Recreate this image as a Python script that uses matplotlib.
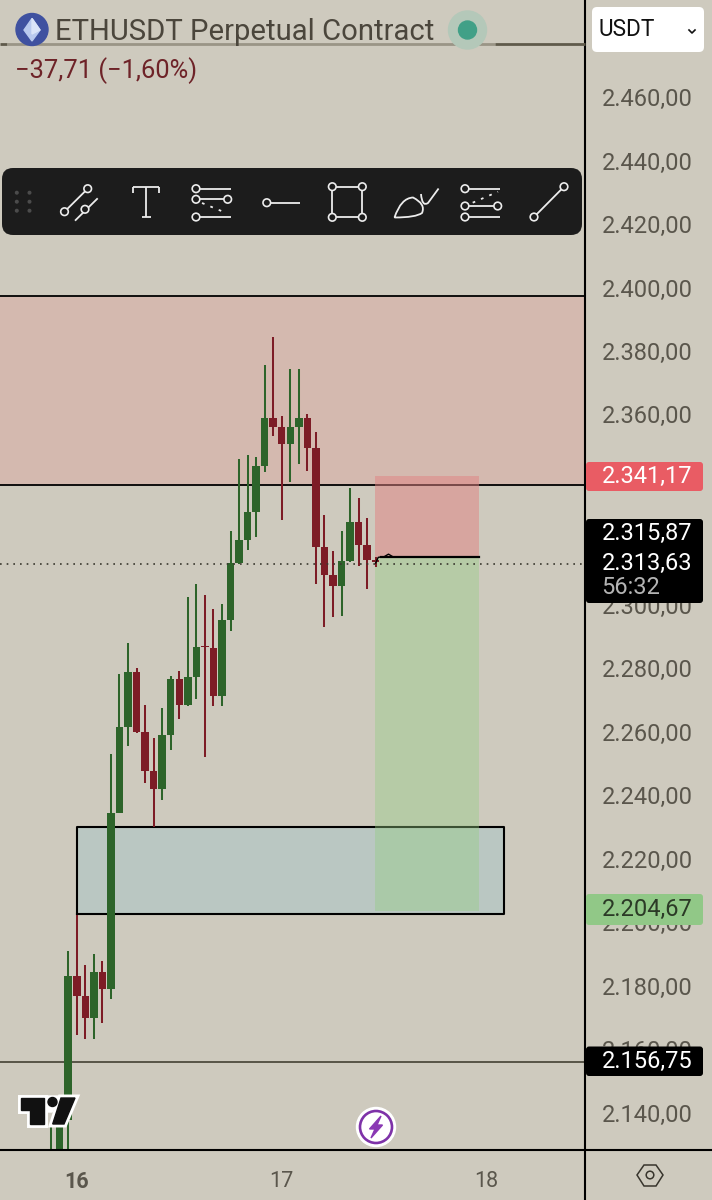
import matplotlib
matplotlib.use("Agg")
import matplotlib.pyplot as plt
import matplotlib.patheffects as pe
from matplotlib.patches import Circle, FancyBboxPatch, Polygon, PathPatch
from matplotlib.path import Path

plt.rcParams['font.family'] = ['Roboto', 'DejaVu Sans']

# ---- data (hourly candles, index 0 = first fully read candle) ----
candle_index = list(range(-1, 38))
opens = [2120.4, 2123.6, 2137.8, 2183.2, 2176.9, 2169.8, 2184.3, 2178.9, 2234.6, 2261.6,
         2279.0, 2260.1, 2247.7, 2241.9, 2259.0, 2276.7, 2268.4, 2277.2, 2287.0, 2286.3,
         2271.4, 2295.3, 2313.1, 2320.4, 2329.4, 2343.8, 2358.9, 2356.0, 2350.6, 2356.0,
         2358.9, 2349.4, 2318.3, 2309.5, 2305.9, 2313.7, 2326.2, 2318.9, 2314.2]
highs = [2136.2, 2138.4, 2191.1, 2202.3, 2186.6, 2190.0, 2187.7, 2253.0, 2278.1, 2287.9,
         2280.0, 2268.4, 2258.0, 2267.4, 2277.5, 2279.3, 2302.4, 2306.6, 2303.0, 2298.6,
         2300.2, 2323.4, 2345.9, 2347.3, 2346.5, 2375.7, 2384.3, 2359.5, 2374.2, 2374.2,
         2360.1, 2354.4, 2328.2, 2317.1, 2323.2, 2336.7, 2333.8, 2327.5, 2315.2]
lows = [2118.6, 2122.0, 2123.6, 2164.5, 2163.4, 2163.2, 2168.2, 2175.9, 2234.4, 2255.6,
        2259.8, 2244.0, 2230.1, 2238.6, 2254.2, 2264.0, 2268.3, 2270.4, 2252.0, 2268.2,
        2268.2, 2291.9, 2312.9, 2317.2, 2321.4, 2342.0, 2353.3, 2326.7, 2338.7, 2344.5,
        2342.3, 2306.6, 2293.1, 2296.1, 2296.6, 2313.5, 2312.4, 2305.1, 2312.0]
closes = [2126.7, 2137.8, 2183.2, 2176.9, 2169.8, 2184.3, 2178.9, 2234.6, 2261.6, 2279.0,
          2260.1, 2247.7, 2241.9, 2259.0, 2276.8, 2268.4, 2277.2, 2286.8, 2286.7, 2271.4,
          2295.3, 2313.1, 2320.4, 2329.4, 2343.8, 2358.9, 2356.0, 2350.6, 2356.0, 2358.9,
          2349.4, 2318.3, 2309.5, 2305.9, 2313.7, 2326.2, 2318.9, 2314.2, 2313.6]

price_ticks = [2460, 2440, 2420, 2400, 2380, 2360, 2340, 2320, 2300, 2280, 2260, 2240,
               2220, 2200, 2180, 2160, 2140]
day_ticks = [2, 26, 50]
day_labels = ['16', '17', '18']

supply_zone = (2337.8, 2397.3)
support_level = 2156.1
last_price_line = 2313.0
demand_box = (2, 52, 2202.6, 2230.1)
position_x = (36.9, 49.1)
position_prices = (2340.6, 2315.2, 2203.5)

tick_text = '2.{},00'
label_stop = '2.341,17'
label_entry = '2.315,87'
label_last = '2.313,63'
label_timer = '56:32'
label_target = '2.204,67'
label_support = '2.156,75'

BG = '#cecabe'
GREEN = '#2d642a'
RED = '#7d1c26'
INK = '#5a564c'

fig = plt.figure(figsize=(7.12, 12), dpi=100, facecolor=BG)
W, H = 712, 1200
ax = fig.add_axes([0, (H - 1150) / H, 585 / W, 1150 / H], facecolor=BG)

# scales: one candle = 8.54 px, 20 price units = 63.5 px
ax.set_xlim((0 - 59.7) / 8.54, (585 - 59.7) / 8.54)
ax.set_ylim(2490.555 - 0.315 * 1150, 2490.555)
for s in ax.spines.values():
    s.set_visible(False)

ax.set_yticks(price_ticks)
ax.set_yticklabels([tick_text.format(str(p)[1:]) for p in price_ticks], color=INK, fontsize=17)
ax.yaxis.tick_right()
ax.tick_params(axis='y', length=0, pad=12)
ax.set_xticks(day_ticks)
ax.set_xticklabels(day_labels, color=INK, fontsize=15.5)
ax.get_xticklabels()[0].set_fontweight('bold')
ax.tick_params(axis='x', length=0, pad=15)

# zones
ax.axhspan(supply_zone[0], supply_zone[1], color='#d4b9af', lw=0, zorder=1)
ax.axhline(supply_zone[1], color='black', lw=1.3, zorder=2)
ax.axhline(supply_zone[0], color='black', lw=1.3, zorder=2)
ax.axhline(support_level, color='#4e4b3e', lw=1.3, zorder=2)

ax.fill_between(demand_box[:2], demand_box[2], demand_box[3], color='#bac7c2', lw=0, zorder=1.5)
ax.plot([demand_box[0], demand_box[1], demand_box[1], demand_box[0], demand_box[0]],
        [demand_box[2], demand_box[2], demand_box[3], demand_box[3], demand_box[2]],
        color='black', lw=1.5, zorder=2)

# candles
for i, o, h, l, c in zip(candle_index, opens, highs, lows, closes):
    col = GREEN if c >= o else RED
    ax.plot([i, i], [l, h], color=col, lw=1.45, solid_capstyle='butt', zorder=3)
    ax.bar(i, abs(c - o), bottom=min(o, c), width=0.88, color=col, lw=0, zorder=3.1)

# position tool
ax.fill_between(position_x, position_prices[1], position_prices[0], color='#e18282', alpha=0.5, lw=0, zorder=2.5)
ax.fill_between(position_x, position_prices[2], position_prices[1], color='#94cd82', alpha=0.4, lw=0, zorder=2.5)
ax.plot([37.6, position_x[1]], [position_prices[1], position_prices[1]], color='black', lw=1.6, zorder=4)
ax.plot([37, 37.3, 38, 38.5, 39], [2313.2, 2315.0, 2315.2, 2316.0, 2315.2], color='black', lw=1.0, zorder=4)

ax.axhline(last_price_line, color='#3a382f', lw=1.2, ls=(0, (1, 3)), zorder=5)

# ---- interface overlay, in pixels ----
ui = fig.add_axes([0, 0, 1, 1], facecolor='none', zorder=10)
ui.set_xlim(0, W)
ui.set_ylim(H, 0)
ui.axis('off')

ui.plot([585, 585], [0, 1200], color='black', lw=1.5, zorder=1)
ui.plot([0, 712], [1150, 1150], color='black', lw=1.5, zorder=1)
ui.plot([0, 7], [43.5, 43.5], color='#5f5a4b', lw=2, solid_capstyle='butt')
ui.plot([7, 495], [43.5, 43.5], color='#9a9586', lw=2, solid_capstyle='butt')
ui.plot([495, 585], [43.5, 43.5], color='#5f5a4b', lw=2, solid_capstyle='butt')

# header
ui.add_patch(Circle((32, 29.5), 16, color='#3f51a0', zorder=3))
ui.add_patch(Polygon([(32, 18.5), (40, 30), (32, 41), (24, 30)], color='#b9c9ee', zorder=4))
ui.add_patch(Polygon([(32, 18.5), (40, 30), (32, 34)], color='#dbe4f8', zorder=5))
ui.text(55, 31.5, 'ETHUSDT Perpetual Contract', color='#4b463c', fontsize=21.1, va='center', ha='left')
ui.add_patch(Circle((467.5, 30), 19, color='#b4c8b9', zorder=3))
ui.add_patch(Circle((467.5, 30), 9, color='#41a087', zorder=4))
ui.text(15, 71, '\u221237,71 (\u22121,60%)', color='#6e2328', fontsize=18.4, va='center', ha='left')

# toolbar
ui.add_patch(FancyBboxPatch((2, 168), 580, 67, boxstyle='round,pad=0,rounding_size=11', lw=0, color='#1c1c1c', zorder=3))
ICON = '#ececec'
for gx in (16.8, 29.5):
    for gy in (192.7, 201.7, 210.7):
        ui.add_patch(Circle((gx, gy), 1.3, color='#4c4c4c', zorder=4))


def seg(x0, y0, x1, y1, ls='-'):
    ui.plot([x0, x1], [y0, y1], color=ICON, lw=1.3, ls=ls, zorder=4, solid_capstyle='butt')


def ring(x, y):
    ui.add_patch(Circle((x, y), 3.8, facecolor='#1c1c1c', edgecolor=ICON, lw=1.2, zorder=5))


seg(64.5, 211.7, 87.7, 188.7); ring(64.5, 211.7); ring(87.7, 188.7)
seg(75, 220.7, 97.7, 198.3); ring(85, 209.3)
seg(133, 187.3, 159, 187.3); seg(133, 187.3, 133, 192.7); seg(159, 187.3, 159, 192.7)
seg(146.2, 187.3, 146.2, 217.3); seg(141.5, 217.3, 151, 217.3)
seg(196, 188.7, 230.5, 188.7); ring(196, 188.7)
seg(196, 199.3, 227.7, 199.3); ring(196, 199.3); ring(227.7, 199.3)
seg(196, 217, 230.5, 217); ring(196, 217)
seg(202, 203, 227, 213.3, ls=(0, (1.5, 3.5)))
seg(266.8, 202.7, 299.5, 202.7); ring(266.8, 202.7)
seg(332.3, 186.7, 362.3, 186.7); seg(332.3, 217.3, 362.3, 217.3)
seg(332.3, 186.7, 332.3, 217.3); seg(362.3, 186.7, 362.3, 217.3)
for cx, cy in ((332.3, 186.7), (362.3, 186.7), (332.3, 217.3), (362.3, 217.3)):
    ring(cx, cy)
brush = Path([(394.5, 217.5), (401, 198), (413, 197.5), (426, 204), (422, 213), (416, 217.5), (394.5, 217.5)],
             [Path.MOVETO, Path.CURVE3, Path.CURVE3, Path.CURVE3, Path.CURVE3, Path.CURVE3, Path.LINETO])
ui.add_patch(PathPatch(brush, facecolor='none', edgecolor=ICON, lw=1.3, zorder=4))
handle = Path([(421, 194), (422, 207), (428, 203), (438.6, 188.5)],
              [Path.MOVETO, Path.CURVE3, Path.CURVE3, Path.LINETO])
ui.add_patch(PathPatch(handle, facecolor='none', edgecolor=ICON, lw=1.3, zorder=4))
seg(465, 188.7, 500, 188.7); ring(465, 188.7)
seg(465, 206, 497.7, 206); ring(465, 206); ring(497.7, 206)
seg(465, 217, 500, 217); ring(465, 217)
seg(472.7, 202.7, 498, 191.7, ls=(0, (1.5, 3.5)))
seg(534, 217, 564, 186.7); ring(534, 217); ring(564, 186.7)

# currency selector
ui.add_patch(FancyBboxPatch((592, 7), 112, 45, boxstyle='round,pad=0,rounding_size=5', lw=0, color='white', zorder=3))
ui.text(598, 30, 'USDT', color='#111111', fontsize=16.3, va='center', ha='left', zorder=4)
ui.plot([689, 692, 695], [30, 33, 30], color='#111111', lw=1.2, zorder=4)


def price_tag(y0, y1, color, zorder=3):
    ui.add_patch(FancyBboxPatch((586, y0), 117, y1 - y0, boxstyle='round,pad=0,rounding_size=3', lw=0,
                                color=color, zorder=zorder))


def tag_text(y, s, color='white', size=17):
    ui.text(601.5, y, s, color=color, fontsize=size, va='center', ha='left', zorder=6)


price_tag(462, 491, '#e95c64')
tag_text(476.5, label_stop)
price_tag(519, 603, 'black')
tag_text(533, label_entry)
tag_text(563.5, label_last)
tag_text(588, label_timer, color='#b4b4b4')
price_tag(894, 925, '#91c887')
tag_text(909, label_target, color='#2b3a26')
price_tag(1046.5, 1076, 'black')
tag_text(1061, label_support)

# settings hexagon
ui.add_patch(Polygon([(637, 1175), (644, 1165), (656, 1165), (663, 1175), (656, 1186), (644, 1186)],
                     facecolor='none', edgecolor='#38352d', lw=1.1))
ui.add_patch(Circle((650, 1175), 3.8, facecolor='none', edgecolor='#38352d', lw=1.1))

# logo mark
halo = [pe.Stroke(linewidth=5, foreground='white'), pe.Normal()]
ui.add_patch(Polygon([(21, 1098), (44, 1098), (44, 1124), (29.5, 1124), (29.5, 1110), (21, 1110)], color='#111111',
                     zorder=6, path_effects=halo))
ui.add_patch(Polygon([(61, 1098), (75, 1098), (64, 1124), (52.7, 1124)], color='#111111', zorder=6, path_effects=halo))
ui.add_patch(Polygon([(44, 1096), (60, 1096), (52, 1112), (44, 1112)], color='white', zorder=5.5))
ui.add_patch(Circle((52.5, 1102), 4.5, color='#111111', zorder=7))

# lightning badge
ui.add_patch(Circle((376, 1127), 19.5, color='white', zorder=5))
ui.add_patch(Circle((376, 1127), 16, facecolor='none', edgecolor='#7e32a8', lw=1.9, zorder=6))
ui.add_patch(Polygon([(381, 1116), (369.5, 1129), (375, 1129), (371, 1138), (382.5, 1125), (377, 1125)], color='#8a38b4', zorder=6))

fig.savefig('out.png', dpi=100, facecolor=BG)
